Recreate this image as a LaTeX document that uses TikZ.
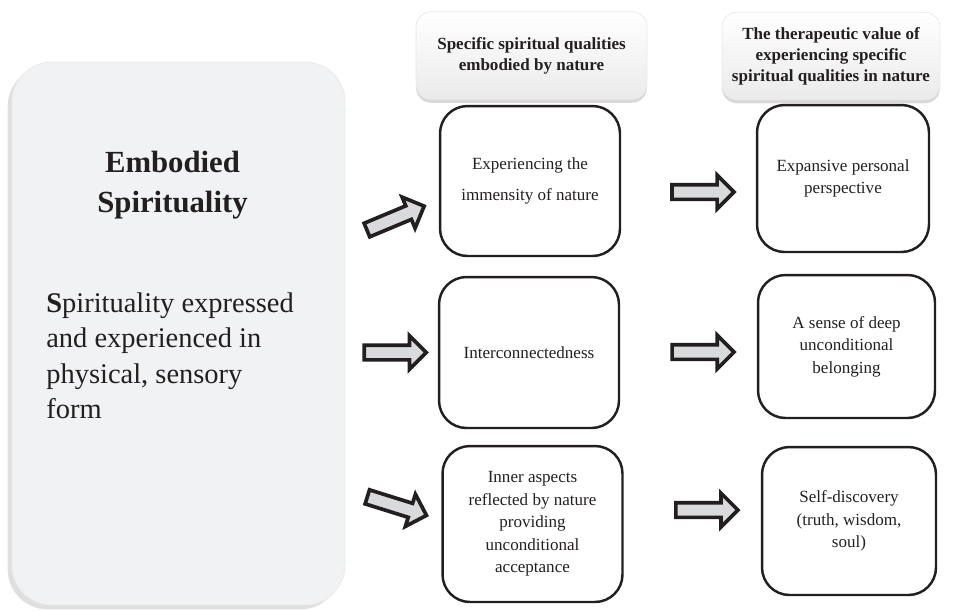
\documentclass[tikz,border=0pt]{standalone}
\usepackage{fontspec}
\setmainfont{Liberation Serif}
\usetikzlibrary{shapes.arrows,shadows}

\definecolor{inkblack}{RGB}{35,31,32}
\definecolor{panelgray}{RGB}{241,242,244}
\definecolor{arrowfill}{RGB}{217,218,219}

\begin{document}
\begin{tikzpicture}[
    x=0.02cm, y=-0.02cm,
    every node/.style={text=inkblack, align=center, inner sep=0pt},
    panel/.style={rounded corners=0.8cm, fill=panelgray, draw=gray!15, line width=0.6pt,
                minimum width=6.66cm, minimum height=10.86cm,
                drop shadow={shadow xshift=-2.5pt, shadow yshift=-2.5pt, opacity=0.25, fill=gray}},
    header/.style={rounded corners=0.3cm, top color=white, bottom color=gray!16, draw=gray!18,
                minimum height=1.75cm, font=\fontsize{9.7}{12}\selectfont\bfseries,
                drop shadow={shadow xshift=0pt, shadow yshift=-2pt, opacity=0.3}},
    quality/.style={rounded corners=0.55cm, draw=inkblack, line width=1.4pt, fill=white,
                minimum width=3.6cm, font=\fontsize{9.7}{12.8}\selectfont},
    blockarrow/.style={single arrow, draw=inkblack, fill=arrowfill, line width=2.1pt,
                minimum height=1.24cm, single arrow head extend=0.19cm,
                inner xsep=0pt, inner ysep=0.11cm},
  ]
  \useasboundingbox (0,0) rectangle (953,610);

  % === Left panel ===
  \node[panel] (embodied) at (178.5,333.5) {};
  \node[anchor=north, font=\fontsize{17.5}{22.8}\selectfont\bfseries] (title) at (172.5,151) {Embodied\\Spirituality};
  \node[anchor=north west, align=left, font=\fontsize{16.2}{20.2}\selectfont] (meaning) at (46,292)
    {\textbf{S}pirituality expressed\\and experienced in\\physical, sensory\\form};

  % === Column headers ===
  \node[header, minimum width=4.62cm] (qualhead) at (531.5,55.5) {Specific spiritual qualities\\embodied by nature};
  \node[header, minimum width=4.36cm] (valuehead) at (831,56) {The therapeutic value of\\experiencing specific\\spiritual qualities in nature};

  % === Spiritual qualities ===
  \node[quality, minimum height=3cm, font=\fontsize{9.7}{17.6}\selectfont] (immensity) at (530,181) {Experiencing the\\immensity of nature};
  \node[quality, minimum height=3.02cm] (connected) at (529,352.5) {Interconnectedness};
  \node[quality, minimum height=3.12cm] (reflected) at (532.5,524) {Inner aspects\\reflected by nature\\providing\\unconditional\\acceptance};

  % === Therapeutic values ===
  \node[quality, minimum width=3.44cm, minimum height=2.94cm] (perspective) at (843,178.5) {Expansive personal\\perspective};
  \node[quality, minimum width=3.54cm, minimum height=2.86cm] (belonging) at (846.5,346.5) {A sense of deep\\unconditional\\belonging};
  \node[quality, minimum width=3.48cm, minimum height=2.96cm] (discovery) at (849,521) {Self-discovery\\(truth, wisdom,\\soul)};

  % === Block arrows ===
  \path (embodied.east |- 0,239) -- (immensity.west |- 0,200) node[midway, sloped, blockarrow] (a1) {};
  \path (embodied.east |- connected.west) -- (connected.west) node[midway, blockarrow] (a2) {};
  \path (embodied.east |- 0,490) -- (reflected.west |- 0,520) node[midway, sloped, blockarrow] (a3) {};

  \path (immensity.east |- 0,192) -- (perspective.west |- 0,192) node[pos=.58, blockarrow] (b1) {};
  \path (connected.east |- 0,352) -- (belonging.west |- 0,352) node[pos=.58, blockarrow] (b2) {};
  \path (reflected.east |- 0,510) -- (discovery.west |- 0,510) node[pos=.58, blockarrow] (b3) {};

\end{tikzpicture}
\end{document}
